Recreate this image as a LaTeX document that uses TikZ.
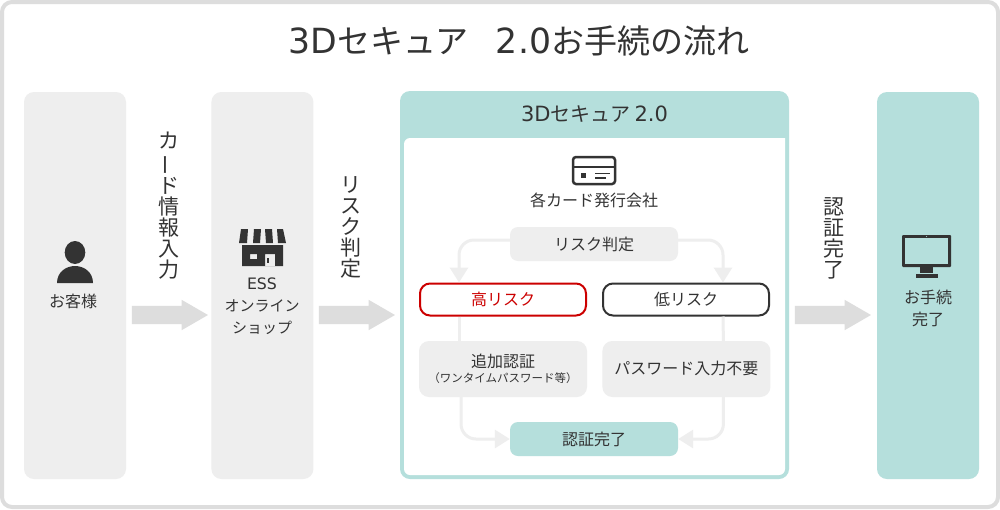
\documentclass[tikz,border=0pt]{standalone}
\usepackage{fontspec}
\setmainfont{Noto Sans CJK JP}
\newfontfamily\latinfont[Scale=1.05]{DejaVu Sans}
\usetikzlibrary{positioning}
\usetikzlibrary{arrows.meta}
\usetikzlibrary{shapes.arrows}
\definecolor{ink}{HTML}{333333}
\definecolor{panelgray}{HTML}{EEEEEE}
\definecolor{framegray}{HTML}{DDDDDD}
\definecolor{teal}{HTML}{B5DFDC}
\definecolor{alert}{HTML}{CC0000}
\newcommand{\vbar}{\rotatebox[origin=c]{90}{ー}}
\tikzset {
  panel/.style = {
    fill = panelgray,
    rounded corners = 10pt,
    minimum width = 102pt,
    minimum height = 387pt,
    inner sep = 0
  },
  % rounded box inside the 3D panel
  stepbox/.style = {
    fill = panelgray,
    rounded corners = 8pt,
    minimum width = 168pt,
    minimum height = 34pt,
    inner sep = 0,
    text = ink,
    font = \fontsize{16}{18}\selectfont
  },
  tallbox/.style = {
    stepbox,
    rounded corners = 10pt,
    minimum height = 56pt
  },
  riskbox/.style = {
    stepbox,
    fill = white,
    draw = #1,
    line width = 2pt,
    minimum width = 166pt,
    rounded corners = 10pt,
    minimum height = 32pt
  },
  % labels
  label/.style = {
    text = ink,
    align = center,
    inner sep = 0,
    font = \fontsize{16}{22}\selectfont
  },
  vlabel/.style = {
    label,
    font = \fontsize{21}{21}\selectfont
  },
  blockarrow/.style = {
    single arrow,
    fill = framegray,
    minimum height = 76pt,
    minimum width = 30pt,
    single arrow head extend = 6pt,
    single arrow tip angle = 60,
    inner xsep = 0,
    inner ysep = 9pt
  },
  flow/.style = {
    draw = panelgray,
    line width = 3pt,
    rounded corners = 15pt
  },
  flowarr/.style = {
    flow,
    -{Triangle[width=18pt,length=15pt]}
  }
}
\begin{document}
\begin{tikzpicture}[x=1pt,y=-1pt]
    \useasboundingbox (0,0) rectangle (1000,509);
    \draw[framegray, line width=4pt, fill=white, rounded corners=10pt]
      (2,2) rectangle (998,507);

    \node[label, font=\fontsize{33}{36}\selectfont] (title) at (519,41) {{\latinfont 3D}セキュア\hspace{27pt}{\latinfont 2.0}お手続の流れ};

    % columns
    \node[panel] (customer) at (75,285.5) {};
    \node[panel] (shop) [right=85pt of customer] {};
    \node[panel, fill=teal] (done) at (928,285.5) {};
    \node[fill=teal, rounded corners=10pt, minimum width=389pt, minimum height=388pt, inner sep=0] (secure) at (594.5,285) {};
    \fill[white, rounded corners=6pt] (404,138) [sharp corners] -- (785,138) [rounded corners=6pt] -- (785,475) -- (404,475) -- cycle;
    \node[label, font=\fontsize{20}{24}\selectfont] (securetitle) at (594.5,114) {{\latinfont 3D}セキュア {\latinfont 2.0}};

    % person icon
    \fill[ink] (75,252.5) ellipse (10.3 and 11.5);
    \fill[ink] (57,283) .. controls (57,272) and (66,266) .. (75,266)
      .. controls (84,266) and (93,272) .. (93,283) -- cycle;
    \node[label] (customerlabel) at (73,301) {お客様};

    % shop icon
    \fill[ink] (241,229) -- (248,229) -- (247,243) -- (239,243) -- cycle;
    \fill[ink] (254,229) -- (261,229) -- (260,243) -- (253,243) -- cycle;
    \fill[ink] (265,229) -- (272,229) -- (273,243) -- (266,243) -- cycle;
    \fill[ink] (277,229) -- (283,229) -- (286,243) -- (278,243) -- cycle;
    \fill[ink, even odd rule] (242,245) rectangle (283,266)
      (250,254) rectangle (257,259) (265,254) rectangle (275,266);
    \fill[ink] (267,258) rectangle (268.5,263);
    \node[label, font=\fontsize{15}{22}\selectfont] (shoplabel) at (262,306.5) {{\latinfont ESS}\\オンライン\\ショップ};

    % card icon
    \draw[ink, line width=2.5pt, rounded corners=3pt] (573,157) rectangle (615,184);
    \draw[ink, line width=2.5pt] (573,167) -- (615,167);
    \fill[ink] (581,173) rectangle (586,178);
    \draw[ink, line width=1.2pt] (595,173.5) -- (610,173.5) (595,178) -- (606,178);
    \node[label] (issuer) at (594,200) {各カード発行会社};

    % monitor icon
    \fill[ink, rounded corners=1pt] (902,235) rectangle (951,267);
    \fill[teal] (905,238) rectangle (948,264);
    \fill[teal] (926.5,236.5) circle (0.5);
    \fill[ink] (920,267) rectangle (933,273);
    \fill[ink] (916,274) rectangle (938,278);
    \node[label] (donelabel) at (928,308.5) {お手続\\完了};

    % inner steps
    \node[stepbox] (risk) at (594,244) {リスク判定};
    \node[riskbox=alert, text=alert] (high) at (503,299.5) {高リスク};
    \node[riskbox=ink] (low) [right=15pt of high] {低リスク};
    \node[tallbox, align=center] (extra) at (503,369) {追加認証\\[-3pt]{\fontsize{11.5}{13}\selectfont （ワンタイムパスワード等）}};
    \node[tallbox] (nopass) [right=15pt of extra] {\raisebox{1.5pt}{パスワード入力不要}};
    \node[stepbox, fill=teal] (auth) at (594,439) {認証完了};

    \draw[flowarr] ([yshift=4pt]risk.west) -| ([xshift=-44pt]high.north);
    \draw[flowarr] ([yshift=4pt]risk.east) -| ([xshift=37pt]low.north);
    \draw[flow] ([xshift=-44pt]high.south) -- ([xshift=-44pt]extra.north);
    \draw[flow] ([xshift=37pt]low.south) -- ([xshift=37pt]nopass.north);
    \draw[flowarr] ([xshift=-42pt]extra.south) |- (auth.west);
    \draw[flowarr] ([xshift=37pt]nopass.south) |- (auth.east);

    % block arrows and their labels
    \node[blockarrow] (arrowa) at (162,315) {};
    \node[blockarrow] (arrowb) at (349,315) {};
    \node[blockarrow] (arrowc) at (825,315) {};
    \node[vlabel, anchor=south] (carddata) at (169,279) {カ\\\vbar\\ド\\情\\報\\入\\力};
    \node[vlabel, anchor=south] (riskcheck) at (351,278) {リ\\ス\\ク\\判\\定};
    \node[vlabel, anchor=south] (authdone) at (834,279) {認\\証\\完\\了};
\end{tikzpicture}
\end{document}
